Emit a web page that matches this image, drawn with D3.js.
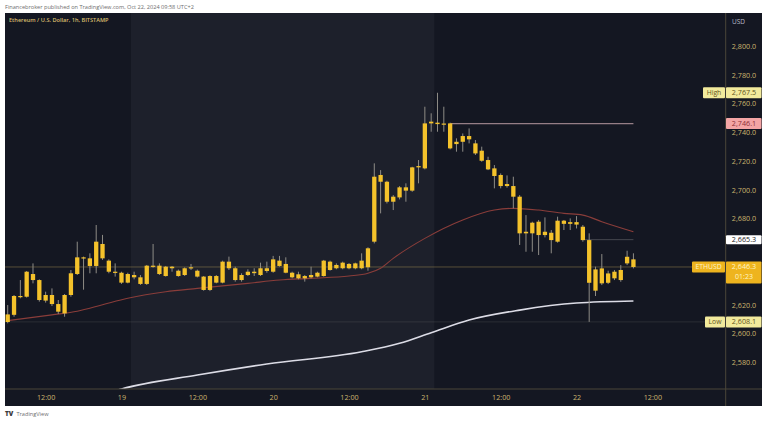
<!DOCTYPE html>
<html><head><meta charset="utf-8">
<script src="https://cdn.jsdelivr.net/npm/d3@7"></script>
<style>
html,body{margin:0;padding:0;background:#fff;}
svg{display:block;font-family:"Open Sans","Noto Sans",sans-serif;}
</style>
</head><body>
<svg id="c" width="768" height="424"></svg>
<script>
// ---- DATA (hour offsets relative to 2024-10-19 00:00, 1h bars) ----
const barHours = d3.range(-18, 82);
const opens = [2608.0,2613.0,2626.1,2625.6,2641.4,2637.2,2622.9,2626.8,2620.5,2614.0,
  2626.8,2641.4,2653.0,2652.3,2647.0,2662.3,2650.7,2643.0,2642.3,2635.4,
  2640.7,2639.1,2634.5,2647.2,2647.2,2640.0,2646.5,2643.7,2640.7,2645.4,
  2643.7,2639.6,2630.3,2640.0,2635.4,2650.0,2645.4,2637.2,2640.7,2643.0,
  2640.7,2645.4,2643.0,2650.7,2648.4,2642.3,2641.2,2638.4,2639.1,2639.6,
  2640.0,2650.0,2645.4,2645.4,2648.4,2645.4,2645.4,2646.1,2663.9,2710.3,
  2705.6,2691.7,2694.7,2701.7,2699.4,2715.6,2714.9,2746.2,2746.7,2745.7,
  2746.2,2731.8,2733.4,2737.4,2732.3,2727.2,2720.7,2714.9,2710.3,2702.6,
  2702.6,2695.2,2669.7,2669.7,2677.8,2668.5,2670.1,2663.9,2678.5,2676.3,
  2677.5,2674.3,2665.0,2629.8,2645.3,2635.3,2638.4,2637.2,2648.8,2651.6];
const highs = [2619.8,2626.8,2637.2,2643.5,2648.8,2637.7,2629.1,2631.4,2623.3,2627.5,
  2644.2,2663.9,2653.5,2655.8,2675.5,2668.6,2651.6,2648.8,2643.0,2642.3,
  2643.0,2640.7,2647.7,2662.3,2648.8,2647.0,2647.0,2644.5,2646.0,2648.4,
  2644.5,2640.0,2640.5,2640.7,2650.7,2653.5,2646.5,2641.9,2644.7,2645.4,
  2649.3,2650.0,2654.0,2654.0,2653.0,2643.0,2643.0,2640.7,2646.5,2643.0,
  2651.2,2650.7,2648.8,2650.0,2649.0,2649.3,2655.8,2660.0,2718.4,2713.7,
  2706.3,2696.3,2702.6,2704.5,2716.0,2720.7,2757.8,2753.2,2767.5,2757.8,
  2746.7,2735.8,2739.2,2742.7,2734.6,2730.0,2723.0,2717.2,2711.4,2710.0,
  2709.1,2696.3,2682.4,2677.8,2679.0,2680.8,2672.0,2681.3,2679.0,2680.1,
  2681.7,2675.5,2669.7,2646.5,2655.3,2643.7,2644.2,2647.6,2657.6,2655.8];
const lows = [2607.1,2611.7,2624.5,2625.0,2634.9,2622.2,2621.5,2619.1,2613.6,2611.7,
  2625.6,2640.7,2630.5,2641.9,2641.9,2651.2,2641.9,2639.6,2634.5,2634.9,
  2637.7,2633.8,2633.8,2645.8,2640.7,2639.6,2643.0,2639.5,2640.0,2644.2,
  2639.0,2629.8,2629.5,2634.9,2634.9,2644.2,2636.1,2636.1,2640.0,2640.0,
  2640.0,2642.3,2642.3,2646.5,2641.9,2638.4,2637.7,2636.1,2638.4,2639.1,
  2639.6,2643.7,2644.7,2644.7,2644.7,2644.7,2644.7,2643.7,2662.7,2683.6,
  2690.5,2685.9,2693.3,2691.7,2698.6,2704.5,2714.2,2740.4,2740.4,2740.4,
  2728.1,2726.5,2726.5,2732.3,2724.2,2719.5,2713.7,2701.0,2701.0,2701.5,
  2687.1,2661.6,2656.9,2656.9,2654.6,2666.9,2655.8,2663.2,2672.0,2672.0,
  2673.1,2663.9,2608.1,2626.1,2633.7,2634.4,2637.2,2636.0,2647.6,2645.3];
const closes = [2613.3,2626.1,2625.4,2643.0,2637.2,2623.3,2626.8,2620.5,2615.2,2626.8,
  2641.9,2653.0,2652.3,2647.0,2663.9,2652.3,2643.0,2642.3,2635.4,2641.4,
  2639.1,2634.5,2647.2,2646.5,2641.4,2646.5,2645.4,2640.0,2645.4,2646.1,
  2639.6,2630.3,2640.0,2635.4,2650.0,2645.4,2637.2,2640.7,2643.0,2642.0,
  2645.4,2643.5,2651.6,2647.0,2642.3,2639.1,2638.4,2640.0,2640.7,2642.3,
  2650.7,2644.2,2647.7,2649.3,2645.4,2648.8,2650.7,2659.3,2709.1,2705.6,
  2691.7,2695.2,2701.7,2699.4,2715.6,2716.5,2746.2,2747.4,2745.7,2746.1,
  2728.8,2733.4,2737.4,2735.1,2725.3,2720.2,2714.2,2709.6,2702.6,2704.0,
  2695.2,2669.7,2670.8,2677.1,2668.5,2670.8,2665.0,2678.5,2676.3,2677.5,
  2675.8,2665.0,2635.3,2644.6,2634.9,2641.8,2643.0,2644.2,2653.4,2646.3];

const maRedHours  = [-18,-11,-7,-3,1,7,12,20,25,30,36,39,41,43,48,54,59,62,66,70,73,76,81];
const maRedValues = [2609.0,2613.0,2615.5,2620.0,2624.5,2629.1,2631.4,2634.9,2637.2,2638.4,2640.0,2641.9,2645.4,2652.3,2666.2,2679.0,2685.9,2687.1,2685.9,2683.6,2682.4,2677.8,2670.8];
const maWhiteHours  = [-6,0,12,23,38,44,49,55,63,72,81];
const maWhiteValues = [2553.0,2561.4,2571.1,2578.8,2587.3,2593.2,2600.6,2609.4,2616.3,2621.2,2622.6];

// 2,640.0 and 2,660.0 are covered by the price tags in the reference
const priceTicks = [2580,2600,2620,2680,2700,2720,2740,2760,2780,2800];
const timeTickHours  = [-12,0,12,24,36,48,60,72,84];
const timeTickLabels = ["12:00","19","12:00","20","12:00","21","12:00","22","12:00"];
const weekendSpan = [1.5, 49.5];

const lastPrice = 2646.3, highPrice = 2767.5, lowPrice = 2608.1;
const rayPrice = 2746.1, rayFrom = 52, rayTo = 81;
const markPrice = 2665.3, markFrom = 73, markTo = 81;

// ---- LAYOUT ----
const svg = d3.select("#c");
const L = 5, R = 725.7, T = 13, B = 389, FR = 762, FB = 406;
const x = d3.scaleLinear().domain([-18.43, 95.6]).range([L, R]);
const y = d3.scaleLinear().domain([2561.4, 2823.0]).range([B, T]);

const BG = "#141722", SHADE = "#1d202b";
const AX = "#cbb46e";

svg.append("text").attr("x", 5).attr("y", 8.5).attr("font-size", 5.6).attr("fill", "#6d6d6d")
  .text("Financebroker published on TradingView.com, Oct 22, 2024 09:58 UTC+2");

svg.append("rect").attr("x", L).attr("y", T).attr("width", FR - L).attr("height", FB - T).attr("fill", BG);
svg.append("rect").attr("x", x(weekendSpan[0])).attr("y", T)
  .attr("width", x(weekendSpan[1]) - x(weekendSpan[0])).attr("height", B - T).attr("fill", SHADE);

const defs = svg.append("defs");
defs.append("clipPath").attr("id", "plot").append("rect")
  .attr("x", L).attr("y", T).attr("width", R - L).attr("height", B - T);

const plot = svg.append("g").attr("clip-path", "url(#plot)");

plot.append("line").attr("x1", L).attr("x2", R).attr("y1", y(lowPrice)).attr("y2", y(lowPrice))
  .attr("stroke", "rgba(150,150,140,0.18)").attr("stroke-width", 1);
plot.append("line").attr("x1", L).attr("x2", R).attr("y1", y(lastPrice)).attr("y2", y(lastPrice))
  .attr("stroke", "rgba(190,160,90,0.40)").attr("stroke-width", 1);
plot.append("line").attr("x1", x(markFrom)).attr("x2", x(markTo)).attr("y1", y(markPrice)).attr("y2", y(markPrice))
  .attr("stroke", "rgba(160,160,160,0.35)").attr("stroke-width", 1);
plot.append("line").attr("x1", x(rayFrom)).attr("x2", x(rayTo)).attr("y1", y(rayPrice)).attr("y2", y(rayPrice))
  .attr("stroke", "#957e86").attr("stroke-width", 1.3);

const lineGen = d3.line().x(d => x(d[0])).y(d => y(d[1])).curve(d3.curveMonotoneX);
plot.append("path").datum(maWhiteHours.map((h, i) => [h, maWhiteValues[i]]))
  .attr("d", lineGen).attr("fill", "none").attr("stroke", "#dcdce6").attr("stroke-width", 1.6);
plot.append("path").datum(maRedHours.map((h, i) => [h, maRedValues[i]]))
  .attr("d", lineGen).attr("fill", "none").attr("stroke", "#8a3d3a").attr("stroke-width", 1.1);

const bars = barHours.map((h, i) => ({h, o: opens[i], hi: highs[i], lo: lows[i], c: closes[i]}));
const bw = (x(1) - x(0)) * 0.68;
const cg = plot.append("g");
cg.selectAll("line.w").data(bars).join("line").attr("class", "w")
  .attr("x1", d => x(d.h)).attr("x2", d => x(d.h))
  .attr("y1", d => y(d.hi)).attr("y2", d => y(d.lo))
  .attr("stroke", "#8e8c86").attr("stroke-width", 1);
cg.selectAll("rect.b").data(bars).join("rect").attr("class", "b")
  .attr("x", d => x(d.h) - bw / 2).attr("width", bw)
  .attr("y", d => y(Math.max(d.o, d.c)))
  .attr("height", d => Math.max(1.2, Math.abs(y(d.o) - y(d.c))))
  .attr("fill", "#f4c22b");

svg.append("line").attr("x1", R).attr("x2", R).attr("y1", T).attr("y2", FB).attr("stroke", "#4b4639").attr("stroke-width", 1);
svg.append("line").attr("x1", L).attr("x2", FR).attr("y1", B).attr("y2", B).attr("stroke", "#4b4639").attr("stroke-width", 1);

const yAxis = svg.append("g").attr("transform", `translate(744,0)`)
  .call(d3.axisRight(y).tickValues(priceTicks).tickFormat(d3.format(",.1f")).tickSize(0));
yAxis.select(".domain").remove();
yAxis.selectAll("text").attr("x", 0).attr("text-anchor", "middle").attr("fill", AX)
  .attr("font-size", 7.2).attr("font-family", '"Open Sans","Noto Sans",sans-serif');

svg.append("text").attr("x", 732).attr("y", 23.5).attr("font-size", 6.5).attr("fill", "#b9bccb").text("USD");

const xAxis = svg.append("g").attr("transform", `translate(0,${B})`)
  .call(d3.axisBottom(x).tickValues(timeTickHours).tickFormat((d, i) => timeTickLabels[i]).tickSize(0));
xAxis.select(".domain").remove();
xAxis.selectAll("text").attr("y", 5.5).attr("fill", AX).attr("font-size", 7.2)
  .attr("font-family", '"Open Sans","Noto Sans",sans-serif');

svg.append("text").attr("x", 9).attr("y", 22).attr("font-size", 5.6).attr("fill", "#d9bd6e")
  .attr("font-weight", "600").text("Ethereum / U.S. Dollar, 1h, BITSTAMP");

function tag(price, text, bg, fg, opts = {}) {
  const yc = y(price);
  const h = opts.h || 11;
  const g = svg.append("g");
  if (opts.name) {
    g.append("rect").attr("x", opts.nx).attr("y", yc - h / 2).attr("width", 725 - opts.nx).attr("height", h)
      .attr("fill", bg).attr("rx", 1);
    g.append("text").attr("x", (opts.nx + 725) / 2).attr("y", yc + 2.4).attr("text-anchor", "middle")
      .attr("font-size", 6.8).attr("fill", opts.nfg || fg).text(opts.name);
  }
  const top = opts.top !== undefined ? opts.top : yc - h / 2;
  g.append("rect").attr("x", 726).attr("y", top).attr("width", 35.5).attr("height", opts.bh || h)
    .attr("fill", bg).attr("rx", 1);
  g.append("text").attr("x", 744).attr("y", yc + 2.5).attr("text-anchor", "middle")
    .attr("font-size", 7.2).attr("fill", fg).text(text);
  return g;
}
const fmt = d3.format(",.1f");
tag(highPrice, fmt(highPrice), "#f2ea9c", "#5f5520", {name: "High", nx: 703});
tag(rayPrice, fmt(rayPrice), "#f3a5a5", "#8c2e35");
tag(markPrice, fmt(markPrice), "#ffffff", "#222222", {h: 9});
const lastTag = tag(lastPrice, fmt(lastPrice), "#eeb41e", "#fff4c6",
  {name: "ETHUSD", nx: 692, nfg: "#fff4c6", top: y(lastPrice) - 5.5, bh: 22});
lastTag.append("text").attr("x", 744).attr("y", y(lastPrice) + 12).attr("text-anchor", "middle")
  .attr("font-size", 7).attr("fill", "#fff4c6").text("01:23");
tag(lowPrice, fmt(lowPrice), "#f2ea9c", "#5f5520", {name: "Low", nx: 705});

const ft = svg.append("g");
ft.append("text").attr("x", 5).attr("y", 416).attr("font-size", 6.5).attr("font-weight", "900")
  .attr("fill", "#3a3a3a").text("TV");
ft.append("text").attr("x", 16.5).attr("y", 416).attr("font-size", 5.6).attr("fill", "#6d6d6d").text("TradingView");
</script>
</body></html>
